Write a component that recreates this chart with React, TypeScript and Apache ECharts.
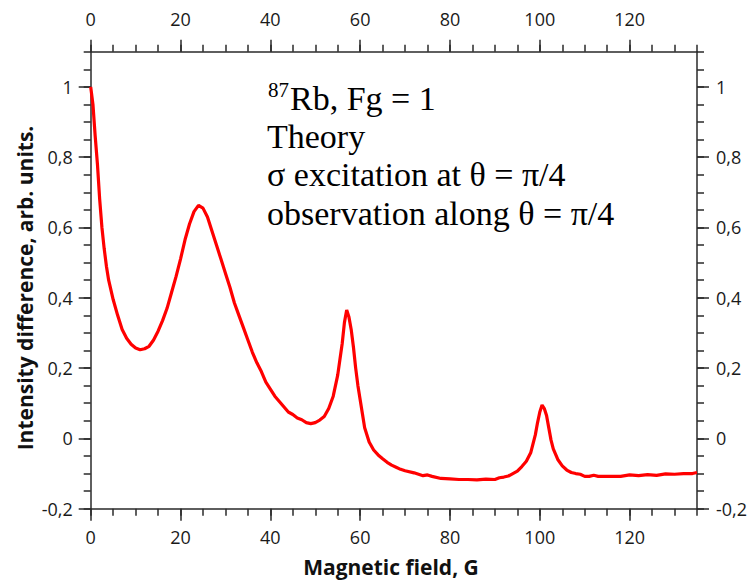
import React, { useEffect, useRef } from "react";
import * as echarts from "echarts";

const fieldG: number[] = [
  0, 0.5, 1, 1.5, 2, 2.5, 3, 3.5, 4, 5, 6, 7, 8, 9, 10, 11, 12, 13, 14, 15,
  16, 17, 18, 19, 20, 21, 22, 23, 24, 25, 26, 27, 28, 29, 30, 31, 32, 33, 34,
  35, 36, 37, 38, 39, 40, 41, 42, 43, 44, 45, 46, 47, 48, 49, 50, 51, 52, 53,
  54, 55, 55.5, 56, 56.5, 57, 57.5, 58, 58.5, 59, 59.5, 60, 60.5, 61, 62, 63,
  64, 65, 66, 67, 68, 69, 70, 72, 74, 75, 76, 78, 80, 82, 84, 86, 88, 90, 91,
  92, 93, 94, 95, 96, 97, 98, 99, 99.5, 100, 100.5, 101, 101.5, 102, 102.5,
  103, 104, 105, 106, 107, 108, 109, 110, 111, 112, 113, 114, 116, 118, 120,
  122, 124, 126, 128, 130, 132, 134, 135,
];

const intensity: number[] = [
  1.0, 0.95, 0.86, 0.78, 0.68, 0.6, 0.54, 0.49, 0.45, 0.395, 0.35, 0.31, 0.285,
  0.268, 0.257, 0.252, 0.255, 0.262, 0.28, 0.305, 0.335, 0.37, 0.415, 0.46,
  0.51, 0.565, 0.61, 0.645, 0.663, 0.655, 0.63, 0.59, 0.55, 0.51, 0.47, 0.43,
  0.385, 0.35, 0.315, 0.28, 0.245, 0.215, 0.19, 0.16, 0.14, 0.12, 0.105, 0.09,
  0.075, 0.068, 0.058, 0.053, 0.045, 0.042, 0.045, 0.052, 0.062, 0.085, 0.12,
  0.18, 0.225, 0.27, 0.33, 0.365, 0.345, 0.31, 0.26, 0.2, 0.15, 0.11, 0.07,
  0.03, -0.01, -0.033, -0.047, -0.058, -0.068, -0.076, -0.082, -0.088, -0.092,
  -0.098, -0.106, -0.104, -0.108, -0.114, -0.115, -0.117, -0.117, -0.118,
  -0.116, -0.117, -0.112, -0.11, -0.107, -0.1, -0.093, -0.08, -0.065, -0.04,
  0.01, 0.045, 0.075, 0.095, 0.085, 0.065, 0.03, -0.005, -0.03, -0.06, -0.078,
  -0.09, -0.097, -0.1, -0.102, -0.108, -0.108, -0.105, -0.108, -0.108, -0.108,
  -0.108, -0.104, -0.106, -0.103, -0.105, -0.101, -0.102, -0.1, -0.1, -0.097,
];

const xRange = { min: 0, max: 135, major: 20, minor: 5 };
const yRange = { min: -0.2, max: 1.1, major: 0.2, minor: 0.05 };

const annotationLines: string[] = [
  "Theory",
  "σ excitation at θ = π/4",
  "observation along θ = π/4",
];
const isotopeMass = "87";
const isotopeRest = "Rb, Fg = 1";
const xName = "Magnetic field, G";
const yName = "Intensity difference, arb. units.";

const AXIS_COLOR = "#2a2a2a";
const LABEL_FONT = "'Open Sans', 'Noto Sans', sans-serif";

const fmt = (v: number) => String(Math.round(v * 10) / 10).replace(".", ",");

function majorX(position: "top" | "bottom", margin: number) {
  return {
    type: "value",
    position,
    min: xRange.min,
    max: xRange.max,
    interval: xRange.major,
    axisLine: { show: true, onZero: false, lineStyle: { color: AXIS_COLOR, width: 1.5 } },
    axisTick: { show: true, inside: false, length: 12, lineStyle: { color: AXIS_COLOR, width: 1.5 } },
    axisLabel: {
      show: true,
      margin,
      fontSize: 18,
      fontFamily: LABEL_FONT,
      color: "#1a1a1a",
      showMaxLabel: false,
      formatter: fmt,
    },
    splitLine: { show: false },
  };
}
function minorX(position: "top" | "bottom") {
  return {
    type: "value",
    position,
    min: xRange.min,
    max: xRange.max,
    interval: xRange.minor,
    axisLine: { show: false, onZero: false },
    axisTick: { show: true, inside: false, length: 7, lineStyle: { color: AXIS_COLOR, width: 1.5 } },
    axisLabel: { show: false },
    splitLine: { show: false },
  };
}
function majorY(position: "left" | "right", margin: number) {
  return {
    type: "value",
    position,
    min: yRange.min,
    max: yRange.max,
    interval: yRange.major,
    axisLine: { show: true, onZero: false, lineStyle: { color: AXIS_COLOR, width: 1.5 } },
    axisTick: { show: true, inside: false, length: 12, lineStyle: { color: AXIS_COLOR, width: 1.5 } },
    axisLabel: {
      show: true,
      margin,
      fontSize: 18,
      fontFamily: LABEL_FONT,
      color: "#1a1a1a",
      showMaxLabel: false,
      formatter: fmt,
    },
    splitLine: { show: false },
  };
}
function minorY(position: "left" | "right") {
  return {
    type: "value",
    position,
    min: yRange.min,
    max: yRange.max,
    interval: yRange.minor,
    axisLine: { show: false, onZero: false },
    axisTick: { show: true, inside: false, length: 7, lineStyle: { color: AXIS_COLOR, width: 1.5 } },
    axisLabel: { show: false },
    splitLine: { show: false },
  };
}

export default function App() {
  const ref = useRef<HTMLDivElement>(null);
  useEffect(() => {
    if (!ref.current) return;
    const chart = echarts.init(ref.current, null, { renderer: "svg" });
    const data = fieldG.map((x, i) => [x, intensity[i]]);
    const serif = "'Liberation Serif', 'Times New Roman', serif";
    chart.setOption({
      animation: false,
      backgroundColor: "#ffffff",
      grid: { left: 90.7, right: 54, top: 51.7, bottom: 72.3, containLabel: false },
      xAxis: [majorX("bottom", 19), minorX("bottom"), majorX("top", 24), minorX("top")],
      yAxis: [majorY("left", 18), minorY("left"), majorY("right", 19), minorY("right")],
      series: [
        {
          type: "line",
          xAxisIndex: 0,
          yAxisIndex: 0,
          data,
          showSymbol: false,
          smooth: false,
          lineStyle: { color: "#ff0000", width: 3.2 },
          clip: true,
        },
      ],
      graphic: [
        {
          type: "text",
          x: 268,
          y: 90,
          style: { text: isotopeMass, font: `21px ${serif}`, fill: "#000", textAlign: "left", textVerticalAlign: "middle" },
        },
        {
          type: "text",
          x: 290,
          y: 98,
          style: { text: isotopeRest, font: `34px ${serif}`, fill: "#000", textAlign: "left", textVerticalAlign: "middle" },
        },
        ...annotationLines.map((t, i) => ({
          type: "text",
          x: 267,
          y: 136.5 + i * 38.4,
          style: { text: t, font: `34px ${serif}`, fill: "#000", textAlign: "left", textVerticalAlign: "middle" },
        })),
        {
          type: "text",
          x: 391,
          y: 567,
          style: {
            text: xName,
            font: `bold 21px ${LABEL_FONT}`,
            fill: "#111",
            textAlign: "center",
            textVerticalAlign: "middle",
          },
        },
        {
          type: "text",
          x: 25,
          y: 288,
          rotation: Math.PI / 2,
          style: {
            text: yName,
            font: `bold 21px ${LABEL_FONT}`,
            fill: "#111",
            textAlign: "center",
            textVerticalAlign: "middle",
          },
        },
      ],
    });
    return () => chart.dispose();
  }, []);
  return (
    <div
      ref={ref}
      style={{ position: "absolute", left: 0, top: 0, width: 751, height: 581, background: "#fff" }}
    />
  );
}
